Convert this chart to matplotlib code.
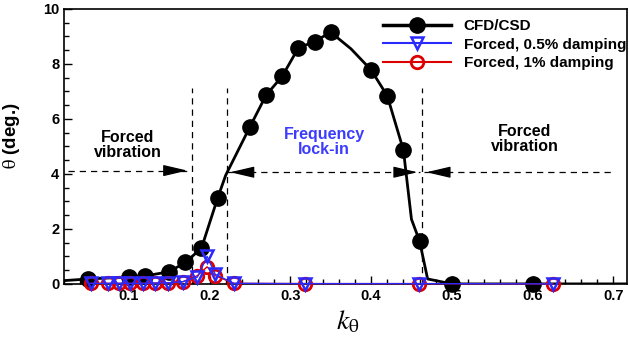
import matplotlib
matplotlib.use("Agg")
import matplotlib.pyplot as plt
from matplotlib.ticker import MultipleLocator

plt.rcParams["font.family"] = ["Liberation Sans", "DejaVu Sans"]
plt.rcParams["mathtext.fontset"] = "stix"

# CFD/CSD markers
cfd_k = [0.05, 0.10, 0.12, 0.15, 0.17, 0.19, 0.21, 0.25, 0.27, 0.29, 0.31,
         0.33, 0.35, 0.40, 0.42, 0.44, 0.46, 0.50, 0.60]
cfd_theta = [0.18, 0.25, 0.29, 0.44, 0.78, 1.30, 3.12, 5.71, 6.86, 7.55, 8.58,
             8.81, 9.15, 7.78, 6.84, 4.87, 1.56, 0.0, 0.0]
# CFD/CSD curve (includes unmarked solver samples)
curve_k = [0.02, 0.05, 0.10, 0.12, 0.15, 0.17, 0.19, 0.21, 0.22, 0.25, 0.27, 0.29,
           0.31, 0.33, 0.35, 0.375, 0.40, 0.42, 0.44, 0.45, 0.46, 0.47, 0.50, 0.60, 0.72]
curve_theta = [0.12, 0.18, 0.25, 0.29, 0.44, 0.78, 1.30, 3.12, 3.95, 5.71, 6.86, 7.55,
               8.58, 8.81, 9.15, 8.55, 7.78, 6.84, 4.87, 2.35, 1.56, 0.18, 0.0, 0.0, 0.0]

# forced vibration results
forced_k = [0.053, 0.074, 0.088, 0.101, 0.117, 0.132, 0.148, 0.167, 0.185, 0.197,
            0.207, 0.23, 0.318, 0.459, 0.625]
forced_05 = [0.02, 0.02, 0.02, 0.02, 0.02, 0.03, 0.04, 0.08, 0.25, 1.00, 0.35,
             0.02, 0.01, 0.01, 0.0]
forced_1 = [0.02, 0.02, 0.02, 0.02, 0.02, 0.03, 0.04, 0.08, 0.30, 0.62, 0.30,
            0.02, 0.01, 0.01, 0.0]

bounds = [0.178, 0.221, 0.463]

fig = plt.figure(figsize=(6.29, 3.40), dpi=100)
ax = fig.add_axes([0.102, 0.165, 0.895, 0.809])

ax.plot(curve_k, curve_theta, color="black", lw=2.0, zorder=3)
ax.plot(cfd_k, cfd_theta, "o", color="black", ms=11, zorder=4, clip_on=False)
ax.plot([], [], "-o", color="black", lw=2.5, ms=11, label="CFD/CSD")
ax.plot(forced_k, forced_1, "-o", color="#dd0000", lw=1.0, ms=9, mfc="none",
        mew=2.0, zorder=5, clip_on=False)
ax.plot(forced_k, forced_05, "-v", color="#2a2aff", lw=1.0, ms=8, mfc="none",
        mew=1.8, zorder=6, clip_on=False)
ax.plot([], [], "-v", color="#2a2aff", lw=1.5, ms=9, mfc="none", mew=1.8,
        label="Forced, 0.5% damping")
ax.plot([], [], "-o", color="#dd0000", lw=1.5, ms=9, mfc="none", mew=2.0,
        label="Forced, 1% damping")

for b in bounds:
    ax.plot([b, b], [0, 7.13], color="black", ls=(0, (5, 4)), lw=0.9, zorder=2)

dash = dict(color="black", ls=(0, (5, 4)), lw=0.9, zorder=2)
ax.plot([0.025, 0.172], [4.12, 4.12], **dash)
ax.plot([0.222, 0.46], [4.06, 4.06], **dash)
ax.plot([0.466, 0.70], [4.06, 4.06], **dash)

head = dict(arrowstyle="-|>,head_length=1.5,head_width=0.35", color="black",
            lw=0.9, mutation_scale=10)
ax.annotate("", xy=(0.176, 4.12), xytext=(-14, 0), textcoords="offset points",
            arrowprops=head)
ax.annotate("", xy=(0.222, 4.06), xytext=(14, 0), textcoords="offset points",
            arrowprops=head)
ax.annotate("", xy=(0.461, 4.06), xytext=(-14, 0), textcoords="offset points",
            arrowprops=head)
ax.annotate("", xy=(0.465, 4.06), xytext=(14, 0), textcoords="offset points",
            arrowprops=head)

ax.text(0.099, 5.05, "Forced\nvibration", ha="center", va="center",
        fontsize=11.5, fontweight="bold", linespacing=1.0)
ax.text(0.342, 5.15, "Frequency\nlock-in", ha="center", va="center",
        fontsize=11.5, fontweight="bold", color="#3c3cff", linespacing=1.0)
ax.text(0.59, 5.27, "Forced\nvibration", ha="center", va="center",
        fontsize=11.5, fontweight="bold", linespacing=1.0)

ax.set_xlim(0.02, 0.717)
ax.set_ylim(0, 10)
ax.xaxis.set_major_locator(MultipleLocator(0.1))
ax.xaxis.set_minor_locator(MultipleLocator(0.02))
ax.yaxis.set_major_locator(MultipleLocator(2))
ax.yaxis.set_minor_locator(MultipleLocator(0.5))
ax.set_xticks([0.1, 0.2, 0.3, 0.4, 0.5, 0.6, 0.7])
ax.set_xticklabels(["0.1", "0.2", "0.3", "0.4", "0.5", "0.6", "0.7"])
ax.tick_params(which="both", direction="in", top=False, right=False,
               labelsize=10.5, width=1.0)
ax.tick_params(which="major", length=6)
ax.tick_params(which="minor", length=3.5)
for lab in ax.get_xticklabels() + ax.get_yticklabels():
    lab.set_fontweight("bold")
for s in ax.spines.values():
    s.set_linewidth(1.2)

ax.set_xlabel(r"$k_{\mathrm{\theta}}$", fontsize=20)
ax.xaxis.set_label_coords(0.503, -0.09)
ax.set_ylabel(r"$\mathrm{\theta}$ (deg.)", fontsize=13.5, fontweight="bold")
ax.yaxis.set_label_coords(-0.075, 0.54)

leg = ax.legend(loc="upper left", bbox_to_anchor=(0.555, 0.985), frameon=False,
                fontsize=11, handlelength=4.5, handletextpad=0.8,
                labelspacing=0.3, borderaxespad=0)
for t in leg.get_texts():
    t.set_fontweight("bold")

fig.savefig("out.png", dpi=100)
